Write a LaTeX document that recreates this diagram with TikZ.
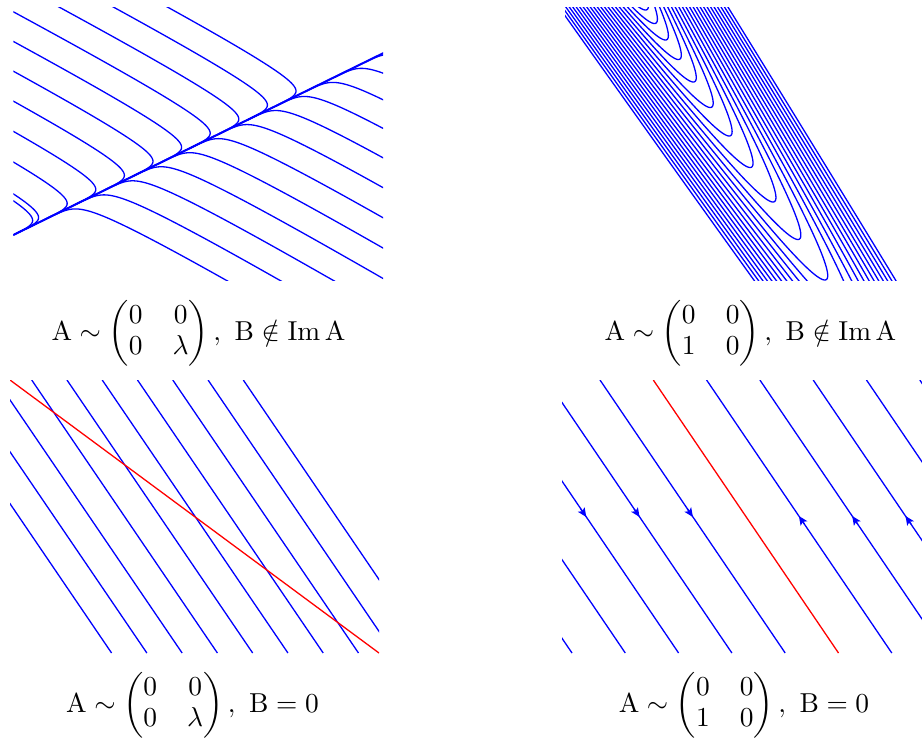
\documentclass[tikz,border=0pt]{standalone}
\usepackage{amsmath}
\usetikzlibrary{arrows.meta,calc}
\definecolor{pblue}{RGB}{0,0,255}
\definecolor{pred}{RGB}{255,0,0}
\setlength{\arraycolsep}{5.5pt}
\begin{document}
\begin{tikzpicture}[x=1bp,y=-1bp,
  traj/.style={pblue, line width=1.3bp},
  eqline/.style={pred, line width=1.3bp},
  flowtip/.style={pblue, line width=1.3bp, -{Stealth[length=9bp,width=8bp,inset=2bp]}},
  caption/.style={anchor=base, inner sep=0pt, scale=2.75, transform shape, font=\fontsize{10}{11.3}\selectfont}]
\useasboundingbox (0,0) rectangle (922,740);

% ---------- panel 1 : A ~ diag(0,lambda), B not in Im A
\begin{scope}
\clip (13.3,8) rectangle (383,280);
\draw[traj, line width=2bp] (13.3,235) -- ++(377,-185.3);
\foreach \j in {0,...,9}{
  \pgfmathsetmacro{\s}{24.1+31.87*\j}
  \draw[traj] plot[domain=-50:34, samples=260, variable=\t]
    ({13.3+(\t+\s)*0.8975-exp(0.18*\t)*0.887},{235-(\t+\s)*0.4411-exp(0.18*\t)*0.461});
}
\draw[traj] plot[domain=-50:34, samples=260, variable=\t]
    ({13.3+(\t+17.5)*0.8975-exp(0.18*\t)*0.887},{235-(\t+17.5)*0.4411-exp(0.18*\t)*0.461});
\foreach \j in {1,...,12}{
  \pgfmathsetmacro{\s}{24.1+31.87*\j}
  \draw[traj] plot[domain=-50:34, samples=260, variable=\t]
    ({13.3+(\t+\s)*0.8975+exp(0.18*\t)*0.857},{235-(\t+\s)*0.4411+exp(0.18*\t)*0.514});
}
\end{scope}

% ---------- panel 2 : A ~ [[0,0],[1,0]], B not in Im A
\begin{scope}
\clip (565,8) rectangle (905,280);
\foreach \n in {0,...,21}{
  \pgfmathsetmacro{\yn}{10+12*\n+1.5*\n*\n}
  \pgfmathsetmacro{\vx}{645.5+0.664*(\yn-10)}
  \pgfmathsetmacro{\T}{sqrt((\yn+10)/0.1283)+5}
  \draw[traj] plot[domain=-\T:\T, samples=220, variable=\t]
    ({\vx+\t-0.0852*\t*\t},{\yn-0.1283*\t*\t});
}
\end{scope}

% ---------- panel 3 : A ~ diag(0,lambda), B = 0
\begin{scope}
\clip (10,380) rectangle (379,653);
\foreach \k in {-3,...,6}{
  \draw[traj] ({31.7+35.27*\k},380) -- ++(185.7,273);
}
\draw[eqline] (10,380) -- (379,653);
\end{scope}

% ---------- panel 4 : A ~ [[0,0],[1,0]], B = 0
\begin{scope}
\clip (562,380) rectangle (922,653);
\foreach \k in {-5,-4,-3,-2,-1,1,2,3,4,5}{
  \draw[traj] ({653.3+53.3*\k},380) -- ++(185.2,273);
}
\draw[eqline] (653.3,380) -- ++(185.2,273);
\foreach \k in {-3,-2,-1}{
  \coordinate (dn\k) at ({746.2+53.3*\k},517);
  \draw[flowtip] ($(dn\k)+(-5.5,-8.1)$) -- (dn\k);
}
\foreach \k in {1,2,3}{
  \coordinate (up\k) at ({745.6+53.3*\k},516);
  \draw[flowtip] ($(up\k)+(5.5,8.1)$) -- (up\k);
}
\end{scope}

% ---------- captions
\node[caption] (cap1) at (198.5,340) {$\mathrm{A}\sim\begin{pmatrix}0&0\\0&\lambda\end{pmatrix},\ \mathrm{B}\notin\mathrm{Im}\,\mathrm{A}$};
\node[caption] (cap2) at (750.5,340) {$\mathrm{A}\sim\begin{pmatrix}0&0\\1&0\end{pmatrix},\ \mathrm{B}\notin\mathrm{Im}\,\mathrm{A}$};
\node[caption] (cap3) at (192.5,712) {$\mathrm{A}\sim\begin{pmatrix}0&0\\0&\lambda\end{pmatrix},\ \mathrm{B}=0$};
\node[caption] (cap4) at (744,712) {$\mathrm{A}\sim\begin{pmatrix}0&0\\1&0\end{pmatrix},\ \mathrm{B}=0$};
\end{tikzpicture}
\end{document}
